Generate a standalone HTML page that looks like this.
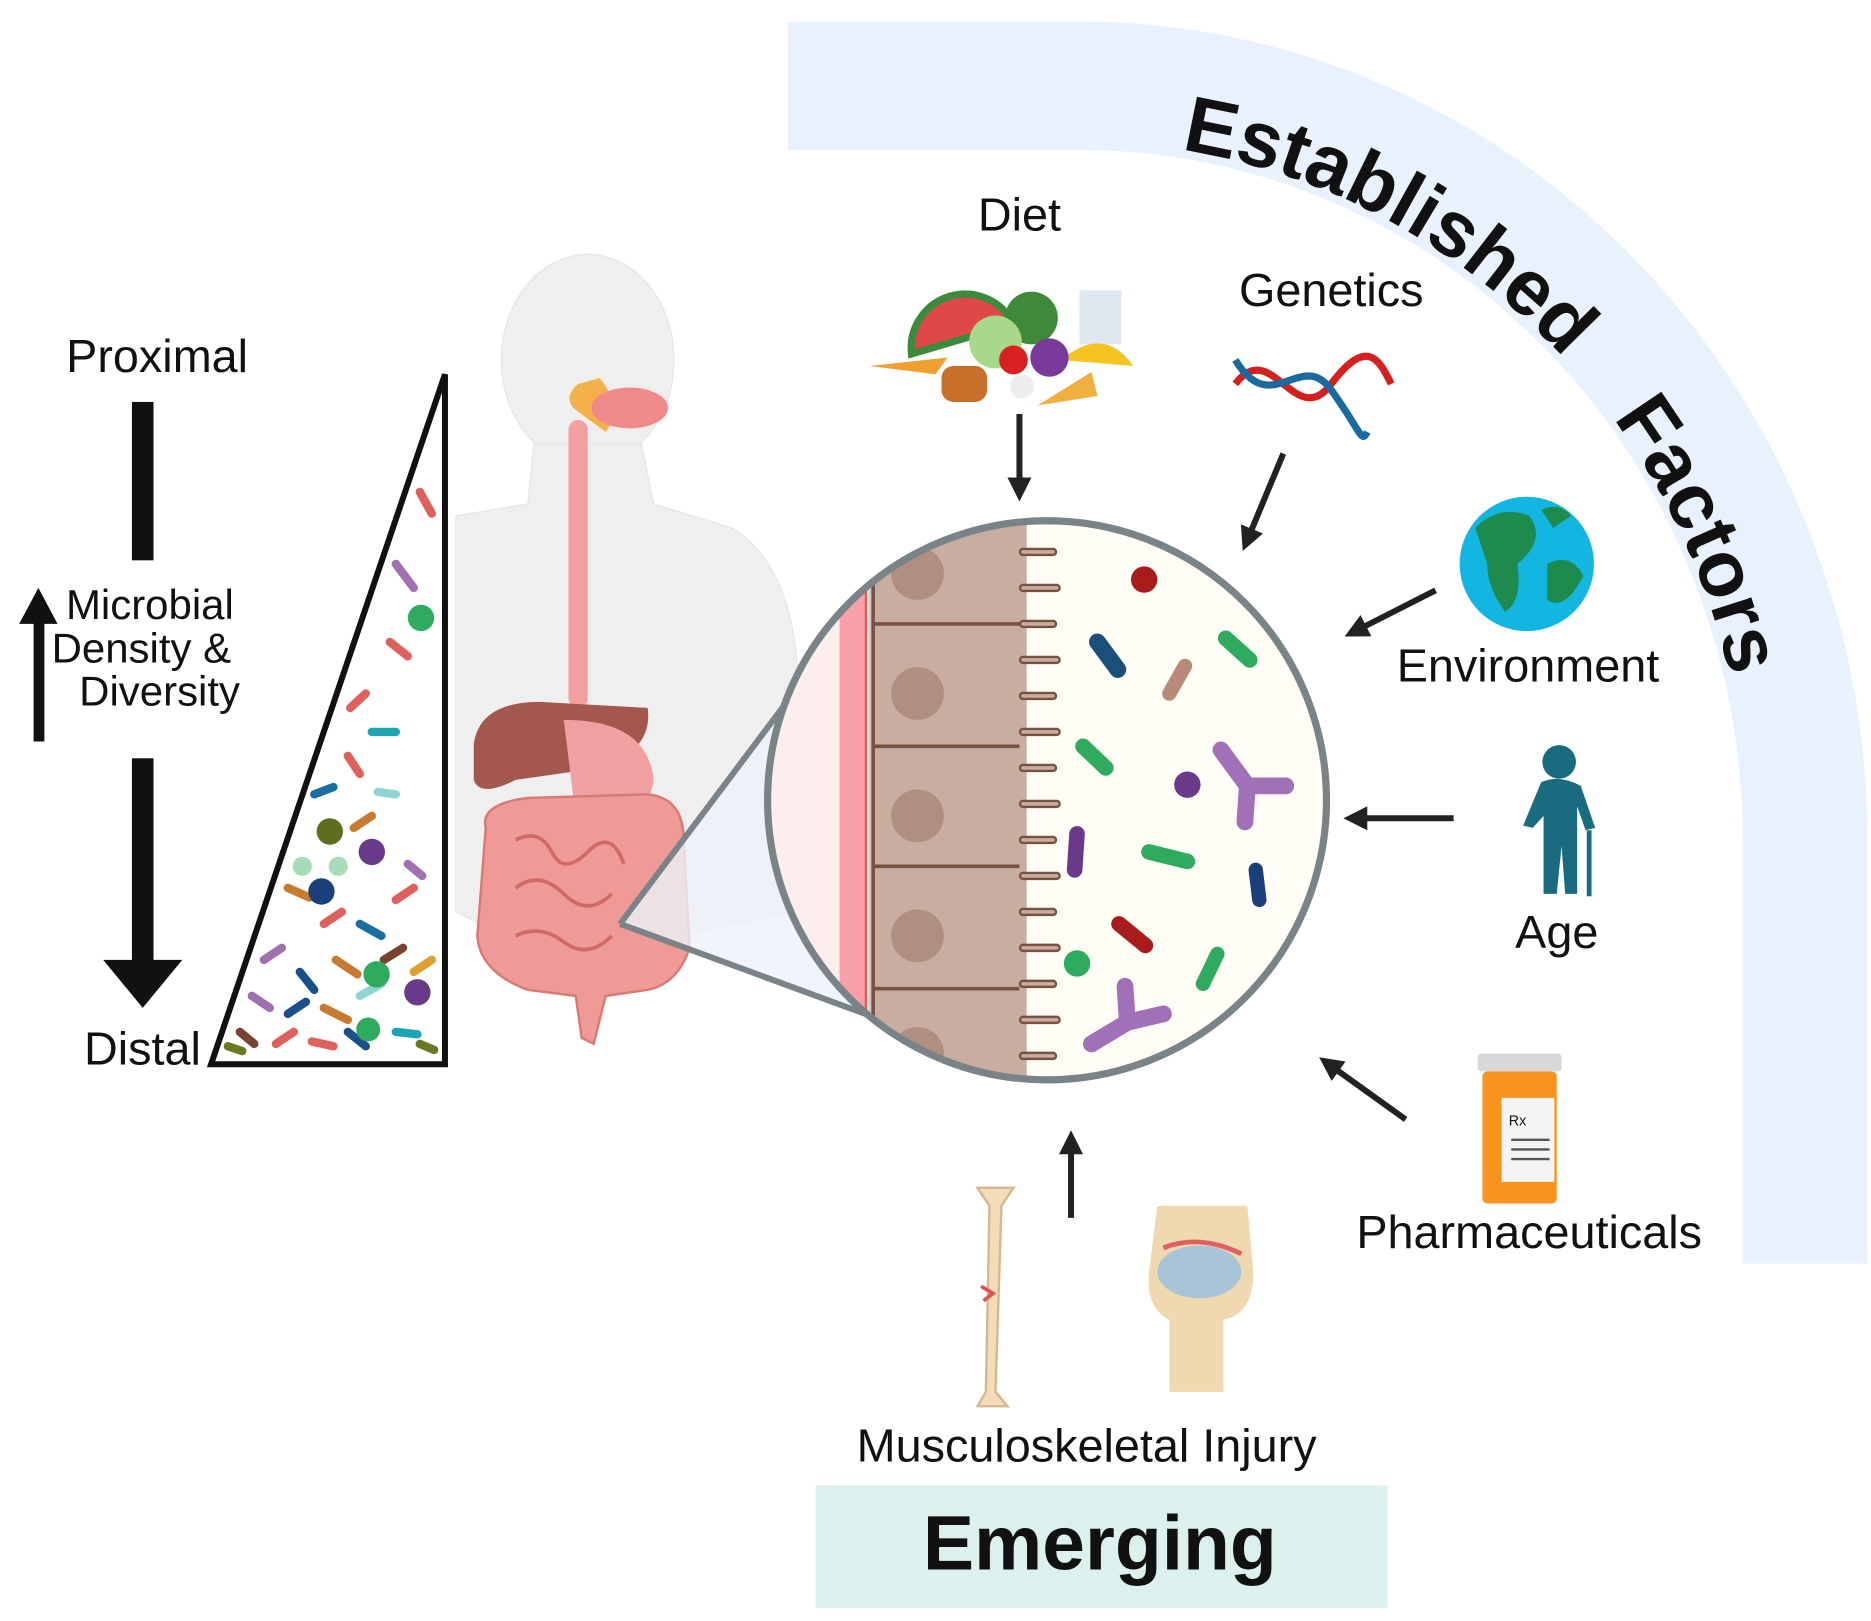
<!DOCTYPE html>
<html><head><meta charset="utf-8"><style>
html,body{margin:0;padding:0;background:#fff}
svg{display:block}
text{font-family:"Liberation Sans",Arial,sans-serif;fill:#111}
</style></head><body>
<svg width="1871" height="1621" viewBox="0 0 1560 1351" preserveAspectRatio="none" xmlns="http://www.w3.org/2000/svg">
<defs>
<clipPath id="cc"><circle cx="873" cy="667" r="233"/></clipPath>
<marker id="ah" viewBox="0 0 10 10" refX="5" refY="5" markerWidth="4" markerHeight="4" orient="auto"><path d="M0,0 L10,5 L0,10 z" fill="#222"/></marker>
<path id="arc" d="M900,118 A558,582 0 0 1 1458,700"/>
</defs>
<path d="M657,18 L900,18 A657,682 0 0 1 1557,700 L1557,1053 L1453,1053 L1453,700 A553,575 0 0 0 900,125 L657,125 Z" fill="#e9f2fc"/>
<text font-size="66" font-weight="bold"><textPath href="#arc" startOffset="85">Established</textPath></text>
<text font-size="66" font-weight="bold"><textPath href="#arc" startOffset="520">Factors</textPath></text>
<rect x="680" y="1238" width="477" height="102" fill="#dcf1ee"/>
<text x="917" y="1308" font-size="64" font-weight="bold" text-anchor="middle">Emerging</text>
<text x="850" y="192" font-size="39" text-anchor="middle">Diet</text>
<text x="1110" y="255" font-size="39" text-anchor="middle">Genetics</text>
<text x="1274" y="568" font-size="39" text-anchor="middle">Environment</text>
<text x="1298" y="790" font-size="39" text-anchor="middle">Age</text>
<text x="1275" y="1040" font-size="39" text-anchor="middle">Pharmaceuticals</text>
<text x="906" y="1218" font-size="39" text-anchor="middle">Musculoskeletal Injury</text>
<text x="131" y="310" font-size="39" text-anchor="middle">Proximal</text>
<text x="55" y="516" font-size="35">Microbial</text>
<text x="43" y="552" font-size="35">Density &amp;</text>
<text x="66" y="588" font-size="35">Diversity</text>
<text x="70" y="887" font-size="39">Distal</text>
<rect x="110" y="335" width="18" height="132" fill="#111"/>
<rect x="110" y="632" width="18" height="170" fill="#111"/>
<path d="M86,800 L152,800 L119,840 Z" fill="#111"/>
<rect x="28" y="512" width="9" height="106" fill="#111"/>
<path d="M16,520 L48,520 L32,490 Z" fill="#111"/>
<path d="M176,887 L371,312 L371,887 Z" fill="#fff" stroke="#111" stroke-width="5"/>
<g stroke-linecap="round" stroke-width="7">
<line x1="350" y1="410" x2="360" y2="428" stroke="#e0605e"/>
<line x1="325" y1="535" x2="340" y2="547" stroke="#e0605e"/>
<line x1="292" y1="590" x2="305" y2="578" stroke="#e0605e"/>
<line x1="290" y1="630" x2="300" y2="645" stroke="#e0605e"/>
<line x1="310" y1="610" x2="330" y2="610" stroke="#1ea5b5"/>
<line x1="262" y1="662" x2="278" y2="656" stroke="#1a6fa0"/>
<line x1="315" y1="660" x2="330" y2="662" stroke="#8fd6d0"/>
<line x1="240" y1="740" x2="258" y2="748" stroke="#c77a30"/>
<line x1="270" y1="770" x2="285" y2="760" stroke="#e0605e"/>
<line x1="300" y1="770" x2="318" y2="780" stroke="#1a6fa0"/>
<line x1="330" y1="750" x2="345" y2="740" stroke="#e0605e"/>
<line x1="220" y1="800" x2="235" y2="790" stroke="#a070b0"/>
<line x1="250" y1="810" x2="262" y2="825" stroke="#1a4f8a"/>
<line x1="280" y1="800" x2="298" y2="812" stroke="#c77a30"/>
<line x1="320" y1="800" x2="336" y2="790" stroke="#7a4030"/>
<line x1="345" y1="810" x2="360" y2="800" stroke="#e0a030"/>
<line x1="210" y1="830" x2="225" y2="840" stroke="#a070b0"/>
<line x1="240" y1="845" x2="255" y2="835" stroke="#1a4f8a"/>
<line x1="270" y1="840" x2="290" y2="850" stroke="#c77a30"/>
<line x1="300" y1="830" x2="318" y2="820" stroke="#8fd6d0"/>
<line x1="200" y1="860" x2="212" y2="870" stroke="#7a4030"/>
<line x1="230" y1="870" x2="245" y2="860" stroke="#e0605e"/>
<line x1="260" y1="868" x2="278" y2="872" stroke="#e0605e"/>
<line x1="290" y1="860" x2="305" y2="872" stroke="#1a4f8a"/>
<line x1="330" y1="860" x2="348" y2="862" stroke="#1ea5b5"/>
<line x1="350" y1="870" x2="362" y2="875" stroke="#6a7a20"/>
<line x1="190" y1="872" x2="202" y2="876" stroke="#6a7a20"/>
<line x1="330" y1="470" x2="345" y2="490" stroke="#a070b0"/>
<line x1="295" y1="690" x2="310" y2="680" stroke="#c77a30"/>
<line x1="340" y1="720" x2="352" y2="730" stroke="#a070b0"/>
</g>
<circle cx="351" cy="515" r="11" fill="#2eab5f"/>
<circle cx="275" cy="693" r="11" fill="#5b6f1e"/>
<circle cx="310" cy="710" r="11" fill="#6a3a8a"/>
<circle cx="268" cy="743" r="11" fill="#1a3f7a"/>
<circle cx="252" cy="722" r="8" fill="#a6dcb8"/>
<circle cx="282" cy="722" r="8" fill="#a6dcb8"/>
<circle cx="314" cy="812" r="11" fill="#2eab5f"/>
<circle cx="348" cy="827" r="11" fill="#6a3a8a"/>
<circle cx="307" cy="858" r="10" fill="#2eab5f"/>
<g fill="#efefef" stroke="#e6e6e6">
<ellipse cx="490" cy="300" rx="72" ry="88"/>
<path d="M445,370 L535,370 L545,420 L610,440 Q660,470 665,560 L665,760 L560,780 L420,780 L380,760 L380,430 L440,420 Z"/>
</g>
<path d="M478,340 Q470,330 482,320 L500,315 Q520,340 505,360 Z" fill="#f4b04a"/>
<ellipse cx="525" cy="340" rx="32" ry="17" fill="#f08a8a"/>
<rect x="474" y="350" width="16" height="240" rx="8" fill="#f4a0a0"/>
<path d="M395,620 Q400,585 450,585 L540,590 Q545,625 500,640 L430,650 Q400,665 395,650 Z" fill="#a4574f"/>
<path d="M470,600 Q540,600 545,650 Q540,690 480,680 Z" fill="#f0a0a0"/>
<path d="M405,690 Q400,670 440,665 L540,662 Q570,665 570,700 L575,790 Q565,820 540,825 L505,830 L495,870 L485,865 L480,830 L440,825 Q400,810 398,780 Z" fill="#ef9a96" stroke="#d77a76" stroke-width="2"/>
<path d="M430,700 q20,-10 30,10 t30,0 t30,10 M430,740 q20,-15 40,5 t40,0 M430,780 q20,-10 40,5 t40,-5" stroke="#d06a66" stroke-width="3" fill="none"/>
<path d="M517,770 L735,480 L735,850 Z" fill="#eef3fa" opacity="0.8"/>
<path d="M517,770 L735,480 M517,770 L735,850" stroke="#7a8488" stroke-width="5" fill="none"/>
<circle cx="873" cy="667" r="233" fill="#fffdf5"/>
<g clip-path="url(#cc)">
<rect x="630" y="420" width="95" height="500" fill="#fdeeee"/>
<rect x="700" y="420" width="22" height="500" fill="#f8a0a8"/>
<line x1="722" y1="420" x2="722" y2="920" stroke="#e05a5a" stroke-width="2"/>
<rect x="724" y="420" width="4" height="500" fill="#cfcfcf"/>
<rect x="728" y="420" width="125" height="500" fill="#c8ada0"/>
<g stroke="#7a5040" stroke-width="3">
<line x1="728" y1="520" x2="855" y2="520"/><line x1="728" y1="622" x2="855" y2="622"/>
<line x1="728" y1="722" x2="855" y2="722"/><line x1="728" y1="824" x2="855" y2="824"/>
<line x1="728" y1="420" x2="728" y2="920"/>
</g>
<g fill="#b08e80"><circle cx="765" cy="478" r="22"/><circle cx="765" cy="578" r="22"/><circle cx="765" cy="680" r="22"/><circle cx="765" cy="780" r="22"/><circle cx="765" cy="878" r="22"/></g>
<path d="M853,420 L853,920" stroke="#c8ada0" stroke-width="6"/>
<path d="M853,430 h28 M853,460 h25 M853,490 h28 M853,520 h25 M853,550 h28 M853,580 h25 M853,610 h28 M853,640 h25 M853,670 h28 M853,700 h25 M853,730 h28 M853,760 h25 M853,790 h28 M853,820 h25 M853,850 h28 M853,880 h25" stroke="#7a5040" stroke-width="7" stroke-linecap="round"/>
<path d="M853,430 h28 M853,460 h25 M853,490 h28 M853,520 h25 M853,550 h28 M853,580 h25 M853,610 h28 M853,640 h25 M853,670 h28 M853,700 h25 M853,730 h28 M853,760 h25 M853,790 h28 M853,820 h25 M853,850 h28 M853,880 h25" stroke="#c8ada0" stroke-width="3" stroke-linecap="round"/>
</g>
<circle cx="873" cy="667" r="233" fill="none" stroke="#7a8488" stroke-width="6"/>
<circle cx="954" cy="483" r="11" fill="#a81c1c"/>
<g stroke-linecap="round">
<line x1="915" y1="535" x2="932" y2="558" stroke="#1a4f7a" stroke-width="14"/>
<line x1="1022" y1="532" x2="1042" y2="550" stroke="#2eab5f" stroke-width="13"/>
<line x1="975" y1="578" x2="988" y2="555" stroke="#b98a7a" stroke-width="12"/>
<line x1="903" y1="622" x2="922" y2="640" stroke="#2eab5f" stroke-width="13"/>
<line x1="898" y1="695" x2="896" y2="725" stroke="#6a3a8a" stroke-width="13"/>
<line x1="958" y1="710" x2="990" y2="718" stroke="#2eab5f" stroke-width="13"/>
<line x1="1047" y1="725" x2="1050" y2="750" stroke="#1a3f7a" stroke-width="12"/>
<line x1="933" y1="770" x2="955" y2="788" stroke="#a81c1c" stroke-width="13"/>
<line x1="1003" y1="820" x2="1015" y2="795" stroke="#2eab5f" stroke-width="12"/>
<path d="M1018,625 L1040,655 L1072,655 M1040,655 L1038,685" stroke="#a070b8" stroke-width="14" fill="none"/>
<path d="M910,870 L940,852 L970,845 M940,852 L938,822" stroke="#a070b8" stroke-width="14" fill="none"/>
</g>
<circle cx="990" cy="654" r="11" fill="#6a3a8a"/>
<circle cx="898" cy="803" r="11" fill="#2eab5f"/>
<g stroke="#222" stroke-width="5" marker-end="url(#ah)">
<line x1="850" y1="345" x2="850" y2="408"/>
<line x1="1070" y1="378" x2="1040" y2="450"/>
<line x1="1197" y1="492" x2="1130" y2="526"/>
<line x1="1212" y1="682" x2="1130" y2="682"/>
<line x1="1172" y1="933" x2="1108" y2="887"/>
<line x1="893" y1="1015" x2="893" y2="952"/>
</g>
<g>
<path d="M760,295 A45,45 0 0 1 845,270 Z" fill="#e04848" stroke="#3c8a3c" stroke-width="6"/>
<circle cx="860" cy="265" r="22" fill="#3f8a3a"/>
<circle cx="830" cy="285" r="22" fill="#a8d88a"/>
<rect x="900" y="242" width="35" height="45" fill="#dfe8f0"/>
<path d="M885,300 Q920,270 945,305 Z" fill="#f4c420"/>
<circle cx="875" cy="298" r="16" fill="#7a3a9a"/>
<circle cx="845" cy="300" r="12" fill="#d82020"/>
<rect x="785" y="305" width="38" height="30" rx="10" fill="#c8702a"/>
<path d="M865,338 L910,310 L915,330 Z" fill="#f0b040"/>
<path d="M725,305 L790,298 L780,312 Z" fill="#f0a030"/>
<circle cx="852" cy="322" r="10" fill="#eee"/>
</g>
<path d="M1030,320 C1060,280 1080,360 1110,320 S1150,300 1160,320" stroke="#d62020" stroke-width="6" fill="none"/>
<path d="M1030,300 C1060,350 1085,290 1110,325 S1135,370 1140,360" stroke="#1a6aa0" stroke-width="6" fill="none"/>
<circle cx="1273" cy="470" r="56" fill="#13b6e0"/>
<path d="M1230,440 Q1250,420 1275,430 Q1290,450 1265,470 Q1270,500 1255,510 Q1240,490 1240,470 Z M1290,470 Q1310,460 1320,480 Q1305,510 1290,500 Z M1285,425 Q1300,418 1310,430 L1295,440 Z" fill="#1e8a4e"/>
<g fill="#1a6b80">
<circle cx="1300" cy="635" r="14"/>
<path d="M1285,652 Q1300,645 1318,655 L1330,690 L1322,692 L1315,672 L1315,745 L1305,745 L1302,705 L1298,745 L1287,745 L1287,680 L1278,690 L1270,688 Z"/>
<rect x="1323" y="692" width="4" height="55"/>
</g>
<rect x="1232" y="878" width="70" height="15" rx="3" fill="#d8d8d8"/>
<rect x="1236" y="893" width="62" height="110" rx="4" fill="#f7931e"/>
<rect x="1252" y="915" width="44" height="70" fill="#f4f4f4"/>
<text x="1258" y="938" font-size="12" font-family="Liberation Serif">Rx</text>
<g stroke="#555" stroke-width="2"><line x1="1260" y1="950" x2="1292" y2="950"/><line x1="1260" y1="958" x2="1292" y2="958"/><line x1="1260" y1="966" x2="1292" y2="966"/></g>
<path d="M815,990 L845,990 L835,1005 L830,1160 L840,1172 L815,1172 L822,1160 L825,1005 Z" fill="#f4dcb8" stroke="#d4b890" stroke-width="2"/>
<path d="M818,1072 L828,1078 L820,1084" stroke="#e05050" stroke-width="3" fill="none"/>
<path d="M965,1005 L1040,1005 L1045,1060 Q1045,1095 1020,1100 L1020,1160 L975,1160 L975,1100 Q955,1090 958,1060 Z" fill="#f0d8b0"/>
<ellipse cx="1000" cy="1060" rx="35" ry="22" fill="#a8c4d8"/>
<path d="M970,1040 Q1000,1028 1035,1045" stroke="#e06060" stroke-width="4" fill="none"/>
</svg>
</body></html>
